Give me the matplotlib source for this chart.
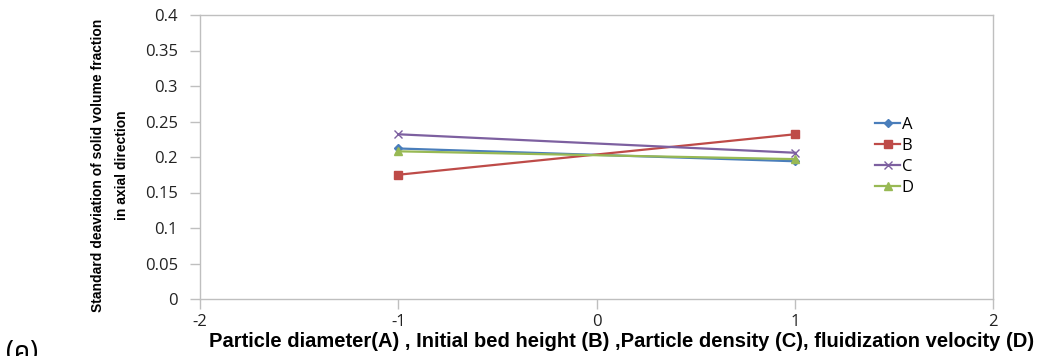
import matplotlib.pyplot as plt
import numpy as np

# data
levels = [-1, 1]
A = [0.212, 0.194]
B = [0.175, 0.232]
C = [0.232, 0.206]
D = [0.208, 0.197]
series_names = ['A', 'B', 'C', 'D']
xticks = [-2, -1, 0, 1, 2]
yticks = [0, 0.05, 0.1, 0.15, 0.2, 0.25, 0.3, 0.35, 0.4]

plt.rcParams['font.family'] = ['Open Sans', 'DejaVu Sans']

fig = plt.figure(figsize=(10.46, 3.56), dpi=100)
ax = fig.add_axes([200/1046, 1-299/356, 793/1046, 284/356])

styles = [
    dict(color='#4A7EBB', marker='D', ms=4),
    dict(color='#BE4B48', marker='s', ms=6),
    dict(color='#7D60A0', marker='x', ms=6, mew=1),
    dict(color='#98B954', marker='^', ms=6),
]
for name, vals, st in zip(series_names, [A, B, C, D], styles):
    ax.plot(levels, vals, lw=1.6, label=name, **st)

ax.set_xlim(-2, 2)
ax.set_ylim(0, 0.4)
ax.set_xticks(xticks)
ax.set_yticks(yticks)
ax.set_xticklabels([str(v) for v in xticks])
ax.set_yticklabels(['0', '0.05', '0.1', '0.15', '0.2', '0.25', '0.3', '0.35', '0.4'])
for s in ax.spines.values():
    s.set_color('#BFBFBF')
    s.set_linewidth(1.0)
ax.tick_params(direction='out', length=7, width=1, color='#BFBFBF',
               labelsize=12, labelcolor='#222222')
ax.tick_params(axis='y', pad=9)
ax.tick_params(axis='x', pad=4)

narrow = ['Liberation Sans', 'DejaVu Sans']
ax.set_ylabel('Standard deaviation of solid volume fraction\nin axial direction',
              fontsize=10, fontweight='bold', family=narrow,
              linespacing=1.9)
ax.yaxis.set_label_coords(-0.09, 0.47)
ax.set_xlabel('Particle diameter(A) , Initial bed height (B) ,Particle density (C), fluidization velocity (D)',
              fontsize=14.5, fontweight='bold', family=narrow)
ax.xaxis.set_label_coords(0.532, -0.115)

leg = ax.legend(loc='upper left', bbox_to_anchor=(860/1046, 1-102/356),
                bbox_transform=fig.transFigure, frameon=False,
                handlelength=1.5, handletextpad=0.1, labelspacing=0.3,
                fontsize=12)

fig.text(0.006, -0.03, '(ค)', fontsize=19, family=['Noto Sans Thai', 'DejaVu Sans', 'Noto Sans'],
         ha='left', va='bottom')

plt.savefig('out.png', dpi=100)
